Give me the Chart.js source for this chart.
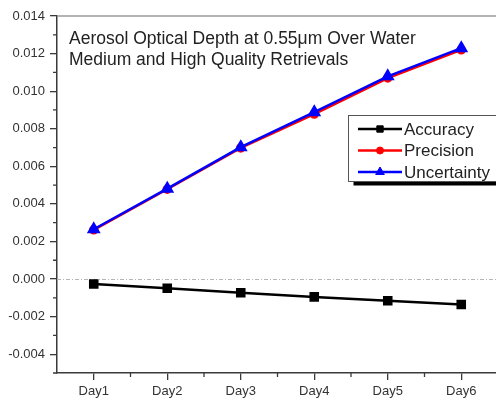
<!DOCTYPE html>
<html>
<head>
<meta charset="utf-8">
<script src="https://cdn.jsdelivr.net/npm/chart.js@4/dist/chart.umd.min.js"></script>
<style>
  html, body { margin: 0; padding: 0; overflow: hidden; background: #fff; }
  #wrap { position: relative; width: 506px; height: 400px; }
</style>
</head>
<body>
<div id="wrap"><canvas id="c" width="506" height="400"></canvas></div>
<script>
// Category labels and series values
const days = ['Day1', 'Day2', 'Day3', 'Day4', 'Day5', 'Day6'];
const accuracy = [-0.00026, -0.00049, -0.00073, -0.00095, -0.00115, -0.00135];
const precision = [0.00262, 0.00478, 0.00698, 0.00878, 0.01070, 0.01220];
const uncertainty = [0.00265, 0.00481, 0.00702, 0.00888, 0.01079, 0.01229];

// Axis ticks
const yMajorTicks = [-0.004, -0.002, 0, 0.002, 0.004, 0.006, 0.008, 0.010, 0.012, 0.014];
const yMinorTicks = [-0.005, -0.003, -0.001, 0.001, 0.003, 0.005, 0.007, 0.009, 0.011, 0.013];

// Annotation text
const titleLines = ['Aerosol Optical Depth at 0.55\u03bcm Over Water', 'Medium and High Quality Retrievals'];

const FONT = '"Liberation Sans", Arial, sans-serif';
const AXIS_COLOR = '#3a3a3a';

// Frame line, zero reference, minor tick marks, inner title and boxed legend
const decorations = {
  id: 'decorations',
  beforeDatasetsDraw(chart) {
    const { ctx, chartArea: a, scales: { x, y } } = chart;
    ctx.save();
    // top frame
    ctx.strokeStyle = '#9a9a9a';
    ctx.lineWidth = 1.5;
    ctx.beginPath();
    ctx.moveTo(a.left, a.top);
    ctx.lineTo(a.right, a.top);
    ctx.stroke();
    // zero line
    const y0 = Math.round(y.getPixelForValue(0)) + 0.5;
    ctx.strokeStyle = '#b5b5b5';
    ctx.lineWidth = 1;
    ctx.setLineDash([4, 2, 1, 2]);
    ctx.beginPath();
    ctx.moveTo(a.left, y0);
    ctx.lineTo(a.right, y0);
    ctx.stroke();
    ctx.setLineDash([]);
    // minor ticks
    ctx.strokeStyle = AXIS_COLOR;
    ctx.lineWidth = 1.3;
    ctx.beginPath();
    yMinorTicks.forEach(v => {
      const py = y.getPixelForValue(v);
      ctx.moveTo(a.left - 4, py);
      ctx.lineTo(a.left, py);
    });
    for (let i = 0; i < days.length - 1; i++) {
      const px = (x.getPixelForValue(i) + x.getPixelForValue(i + 1)) / 2;
      ctx.moveTo(px, a.bottom);
      ctx.lineTo(px, a.bottom + 4);
    }
    ctx.stroke();
    // title inside plot
    ctx.fillStyle = '#222';
    ctx.font = '17.5px ' + FONT;
    ctx.textAlign = 'left';
    ctx.textBaseline = 'middle';
    titleLines.forEach((t, i) => ctx.fillText(t, 69, 39 + i * 21));
    ctx.restore();
  },
  afterDraw(chart) {
    const { ctx } = chart;
    const bx = 348.5, by = 115.5, bw = 170, bh = 66;
    ctx.save();
    // shadow
    ctx.fillStyle = '#000';
    ctx.fillRect(bx + 5, by + bh, bw, 4);
    ctx.fillRect(bx + bw, by + 5, 4, bh);
    // box
    ctx.fillStyle = '#fff';
    ctx.fillRect(bx, by, bw, bh);
    ctx.strokeStyle = '#555';
    ctx.lineWidth = 1;
    ctx.strokeRect(bx, by, bw, bh);
    ctx.font = '17px ' + FONT;
    ctx.textBaseline = 'middle';
    ctx.textAlign = 'left';
    chart.data.datasets.forEach((ds, i) => {
      const cy = 129 + i * 21.5;
      ctx.strokeStyle = ds.borderColor;
      ctx.lineWidth = 2.5;
      ctx.beginPath();
      ctx.moveTo(358, cy);
      ctx.lineTo(402, cy);
      ctx.stroke();
      ctx.fillStyle = ds.pointBackgroundColor;
      ctx.strokeStyle = ds.pointBorderColor;
      ctx.lineWidth = 1;
      Chart.helpers.drawPoint(ctx, { pointStyle: ds.pointStyle, radius: ds.legendRadius, borderWidth: 1 }, 380, cy);
      ctx.fillStyle = '#222';
      ctx.fillText(ds.label, 404, cy + 1);
    });
    ctx.restore();
  }
};

new Chart(document.getElementById('c'), {
  type: 'line',
  data: {
    labels: days,
    datasets: [
      {
        label: 'Accuracy', data: accuracy,
        borderColor: '#000', borderWidth: 2.5,
        pointStyle: 'rect', pointRadius: 5, legendRadius: 4.5,
        pointBackgroundColor: '#000', pointBorderColor: '#000',
        order: 1
      },
      {
        label: 'Precision', data: precision,
        borderColor: '#ff0000', borderWidth: 2.5,
        pointStyle: 'circle', pointRadius: 3.5, legendRadius: 3.5,
        pointBackgroundColor: '#ff0000', pointBorderColor: '#ff0000',
        order: 3
      },
      {
        label: 'Uncertainty', data: uncertainty,
        borderColor: '#0000ff', borderWidth: 2.5,
        pointStyle: 'triangle', pointRadius: 5.5, legendRadius: 5,
        pointBackgroundColor: '#0000ff', pointBorderColor: '#0000ff',
        order: 2
      }
    ]
  },
  options: {
    responsive: false,
    animation: false,
    devicePixelRatio: 1,
    layout: { padding: { top: 16, right: 1, left: 0, bottom: 0 } },
    plugins: { legend: { display: false }, tooltip: { enabled: false } },
    scales: {
      x: {
        type: 'category',
        offset: true,
        grid: { drawOnChartArea: false, offset: false, tickLength: 7, color: AXIS_COLOR, lineWidth: 1.3 },
        border: { color: AXIS_COLOR, width: 1.5 },
        ticks: { color: '#333', font: { family: FONT, size: 13 }, padding: 4, maxRotation: 0 },
        afterFit(s) { s.height = 27; }
      },
      y: {
        min: -0.005,
        max: 0.014,
        afterBuildTicks(s) { s.ticks = yMajorTicks.map(v => ({ value: v })); },
        grid: { drawOnChartArea: false, tickLength: 7, color: AXIS_COLOR, lineWidth: 1.3 },
        border: { color: AXIS_COLOR, width: 1.5 },
        ticks: {
          color: '#333', font: { family: FONT, size: 13 }, padding: 5,
          callback: v => Number(v).toFixed(3)
        },
        afterFit(s) { s.width = 57; }
      }
    }
  },
  plugins: [decorations]
});
</script>
</body>
</html>
